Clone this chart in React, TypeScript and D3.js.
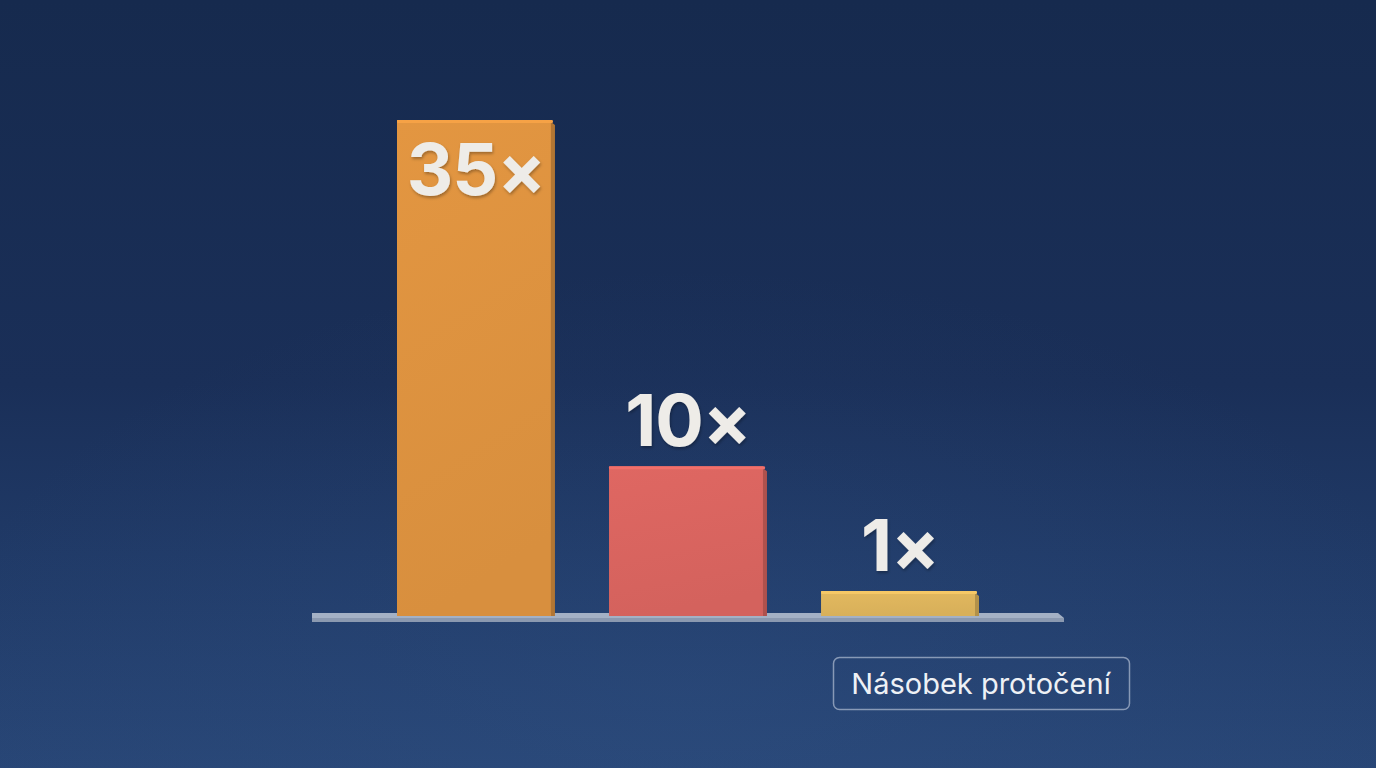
// Rollover multiplier bar chart
import React, { useEffect, useRef } from 'react';
import * as d3 from 'd3';

const categories: string[] = ['a', 'b', 'c'];
const values: number[] = [35, 10, 1];
const valueLabels: string[] = ['35×', '10×', '1×'];
const barColors: string[] = ['#dd923f', '#d9645f', '#ddb45c'];
const legendLabel = 'Násobek protočení';

const App: React.FC = () => {
  const svgRef = useRef<SVGSVGElement>(null);

  useEffect(() => {
    if (!svgRef.current) return;
    const width = 1376;
    const height = 768;
    const svg = d3.select(svgRef.current);
    svg.selectAll('*').remove();
    svg.attr('width', width).attr('height', height);

    const defs = svg.append('defs');

    // background
    const bg = defs.append('linearGradient')
      .attr('id', 'bg').attr('x1', 0).attr('y1', 0).attr('x2', 0).attr('y2', 1);
    bg.append('stop').attr('offset', '0%').attr('stop-color', '#162a4e');
    bg.append('stop').attr('offset', '50%').attr('stop-color', '#1a2f58');
    bg.append('stop').attr('offset', '72%').attr('stop-color', '#203a67');
    bg.append('stop').attr('offset', '100%').attr('stop-color', '#284676');
    svg.append('rect').attr('width', width).attr('height', height).attr('fill', 'url(#bg)');

    const glow = defs.append('radialGradient')
      .attr('id', 'glow').attr('cx', '50%').attr('cy', '90%').attr('r', '55%');
    glow.append('stop').attr('offset', '0%').attr('stop-color', '#35598e').attr('stop-opacity', 0.22);
    glow.append('stop').attr('offset', '100%').attr('stop-color', '#35598e').attr('stop-opacity', 0);
    svg.append('rect').attr('width', width).attr('height', height).attr('fill', 'url(#glow)');

    const shadow = defs.append('filter').attr('id', 'txtShadow')
      .attr('x', '-20%').attr('y', '-20%').attr('width', '140%').attr('height', '140%');
    shadow.append('feDropShadow')
      .attr('dx', 1).attr('dy', 2).attr('stdDeviation', 1.5)
      .attr('flood-color', '#000').attr('flood-opacity', 0.3);

    const baseline = 616;
    const x = d3.scaleBand<string>().domain(categories).range([397, 979]).paddingInner(0.255);
    const y = d3.scaleLinear().domain([-0.8, 35]).range([baseline, 120]);
    const bw = x.bandwidth();
    const side = 4;

    // floor platform
    const px0 = x(categories[0])! - 85;
    const px1 = x(categories[categories.length - 1])! + bw + 85;
    svg.append('path')
      .attr('d', `M${px0},${baseline - 3} L${px1 - 6},${baseline - 3} L${px1},${baseline + 2} L${px1},${baseline + 6} L${px0},${baseline + 6} Z`)
      .attr('fill', '#a4b1c5');
    svg.append('rect')
      .attr('x', px0).attr('y', baseline + 2).attr('width', px1 - px0).attr('height', 4)
      .attr('fill', '#8b99b0');

    categories.forEach((c, i) => {
      const x0 = x(c)!;
      const top = y(values[i]);
      const color = d3.color(barColors[i])!;
      const gid = `bar${i}`;
      const g = defs.append('linearGradient')
        .attr('id', gid).attr('x1', 0).attr('y1', 0).attr('x2', 0.2).attr('y2', 1);
      g.append('stop').attr('offset', '0%').attr('stop-color', color.brighter(0.08).formatHex());
      g.append('stop').attr('offset', '100%').attr('stop-color', color.darker(0.06).formatHex());

      // side face
      svg.append('path')
        .attr('d', `M${x0 + bw - side},${top + 2} L${x0 + bw},${top + 5} L${x0 + bw},${baseline} L${x0 + bw - side},${baseline} Z`)
        .attr('fill', color.darker(0.6).formatHex());
      // front face
      svg.append('rect')
        .attr('x', x0).attr('y', top)
        .attr('width', bw - side).attr('height', baseline - top)
        .attr('fill', `url(#${gid})`);
      // top edge highlight
      svg.append('rect')
        .attr('x', x0).attr('y', top)
        .attr('width', bw - side + 2).attr('height', 3)
        .attr('rx', 1)
        .attr('fill', color.brighter(0.3).formatHex());

      const inside = values[i] === d3.max(values);
      svg.append('text')
        .attr('x', x0 + bw / 2)
        .attr('y', inside ? top + 75 : top - 20)
        .attr('text-anchor', 'middle')
        .attr('filter', 'url(#txtShadow)')
        .style('font-family', 'Inter, "Open Sans", sans-serif')
        .style('font-weight', 700)
        .style('font-size', '72px')
        .style('letter-spacing', '-1px')
        .style('fill', '#eeece8')
        .text(valueLabels[i]);
    });

    // legend box
    const legend = svg.append('g').attr('transform', 'translate(833,657)');
    legend.append('rect')
      .attr('x', 0.5).attr('y', 0.5).attr('width', 296).attr('height', 52).attr('rx', 6)
      .attr('fill', 'none').attr('stroke', '#a8b6cc').attr('stroke-width', 1.5).attr('stroke-opacity', 0.75);
    legend.append('text')
      .attr('x', 148).attr('y', 37)
      .attr('text-anchor', 'middle')
      .style('font-family', 'Inter, "Open Sans", sans-serif')
      .style('font-weight', 400)
      .style('font-size', '29px')
      .style('fill', '#eef1f5')
      .text(legendLabel);
  }, []);

  return (
    <div style={{ position: 'absolute', left: 0, top: 0, width: 1376, height: 768, overflow: 'hidden' }}>
      <svg ref={svgRef} style={{ display: 'block' }}></svg>
    </div>
  );
};

export default App;
